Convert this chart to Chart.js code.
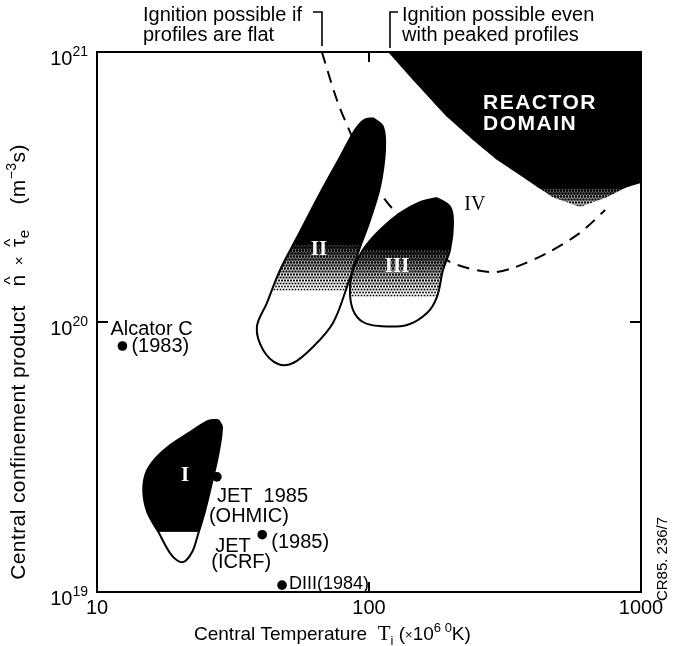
<!DOCTYPE html>
<html>
<head>
<meta charset="utf-8">
<script src="https://cdn.jsdelivr.net/npm/chart.js@4.4.1/dist/chart.umd.min.js"></script>
<style>
  html, body { margin: 0; padding: 0; background: #fff; }
  canvas { display: block; }
</style>
</head>
<body>
<canvas id="chart" width="677" height="646"></canvas>
<script>
// ---- Axes (log-log) ----
const xRange = [10, 1000];
const yRange = [1e19, 1e21];
const xTickValues = [10, 100, 1000];
const xTickLabels = ['10', '100', '1000'];
const yTickValues = [1e19, 1e20, 1e21];
const yTickExponents = ['19', '20', '21'];
const xInnerTicks = [100];
const yInnerTicks = [1e20];

// ---- Individual machines: central ion temperature (10^6 K), n·tau (m^-3 s) ----
const machineT  = [12.4, 27.6, 40.5, 47.9];
const machineNT = [8.15e19, 2.67e19, 1.63e19, 1.06e19];
const machineLabels = [
  ['Alcator C', '(1983)'],
  ['JET  1985', '(OHMIC)'],
  ['JET', '(1985)', '(ICRF)'],
  ['DIII(1984)']
];

// ---- Ignition boundary for flat profiles (dashed) ----
const ignitionT  = [67.1, 76.2, 85.1, 96.6, 108, 121.5, 154, 198.6, 278.6, 338, 451, 597, 738];
const ignitionNT = [1e21, 6.64e20, 5.06e20, 3.81e20, 3.08e20, 2.64e20, 2.05e20, 1.67e20, 1.53e20, 1.585e20, 1.80e20, 2.14e20, 2.60e20];

// ---- Reactor domain (ignition with peaked profiles) ----
const reactorT  = [117.5, 145, 193.7, 241, 295.8, 381, 474, 597, 750, 889, 1000, 1000, 117.5];
const reactorNT = [1e21, 7.88e20, 5.74e20, 4.72e20, 3.98e20, 3.36e20, 2.90e20, 2.67e20, 2.90e20, 3.16e20, 3.27e20, 1e21, 1e21];
const reactorShade = [3.13e20, 2.49e20];   // solid above, dotted fade down to

// ---- Operating regimes I, II, III ----
const regimeIT  = [27.9, 28.8, 27.9, 26.5, 24.9, 23.5, 22.4, 20.7, 18.9, 16.8, 15.3, 14.8, 15.1, 16.2, 18.6, 22.0, 25.6, 27.9];
const regimeINT = [4.34e19, 4.08e19, 3.22e19, 2.56e19, 1.98e19, 1.63e19, 1.41e19, 1.29e19, 1.36e19, 1.67e19, 1.98e19, 2.35e19, 2.74e19, 3.08e19, 3.50e19, 3.91e19, 4.30e19, 4.34e19];
const regimeIShade = [1.67e19, 1.67e19];

const regimeIIT  = [103.4, 112.6, 114.5, 109.7, 100.9, 91.1, 83.0, 73.7, 62.2, 52.6, 46.3, 40.8, 38.7, 42.2, 47.1, 54.4, 66.1, 78.2, 88.8, 95.9, 103.4];
const regimeIINT = [5.69e20, 5.28e20, 4.34e20, 3.16e20, 2.39e20, 1.80e20, 1.35e20, 9.92e19, 8.08e19, 7.05e19, 6.99e19, 7.88e19, 9.58e19, 1.18e20, 1.56e20, 2.06e20, 3.00e20, 4.08e20, 5.14e20, 5.60e20, 5.69e20];
const regimeIIShade = [1.93e20, 1.315e20];

const regimeIIIT  = [177.8, 198.6, 203.7, 198.6, 187.2, 177.8, 163.4, 137.9, 109.7, 95.0, 87.3, 85.1, 87.3, 95.0, 109.7, 130.0, 154.0, 177.8];
const regimeIIINT = [2.88e20, 2.67e20, 2.33e20, 1.85e20, 1.56e20, 1.24e20, 1.08e20, 9.75e19, 9.66e19, 1.0e20, 1.11e20, 1.31e20, 1.56e20, 1.85e20, 2.19e20, 2.53e20, 2.78e20, 2.88e20];
const regimeIIIShade = [1.85e20, 1.24e20];

const regimeNames = ['I', 'II', 'III', 'IV'];
const regimeLabelT  = [21.1, 65.5, 126.8, 245];
const regimeLabelNT = [2.71e19, 1.85e20, 1.60e20, 2.71e20];

// ---- helpers ----
const SANS = '"Liberation Sans", Arial, Helvetica, sans-serif';
const SERIF = '"Liberation Serif", "Times New Roman", serif';
const pts = (xs, ys) => xs.map((x, i) => ({ x: x, y: ys[i] }));

// Halftone band: staggered square dots whose size shrinks from top to bottom
function stipple(ctx, x0, x1, yTop, yBot) {
  const pitch = 3;
  for (let gy = Math.floor(yTop / pitch) * pitch; gy < yBot; gy += pitch) {
    const t = Math.min(1, Math.max(0, (gy + pitch / 2 - yTop) / (yBot - yTop)));
    const ink = 0.95 - 0.68 * t;
    const s = pitch * Math.sqrt(ink);
    const shift = ((gy / pitch) & 1) ? pitch / 2 : 0;
    for (let gx = Math.floor(x0 / pitch) * pitch - pitch; gx < x1; gx += pitch) {
      ctx.fillRect(gx + shift + (pitch - s) / 2, gy + (pitch - s) / 2, s, s);
    }
  }
}

// parts: [text, size, dy, family, weight, hat]
function drawRich(ctx, parts, x, y, align) {
  const widths = parts.map(p => {
    ctx.font = (p[4] || '') + ' ' + p[1] + 'px ' + (p[3] || SANS);
    return ctx.measureText(p[0]).width;
  });
  const total = widths.reduce((a, b) => a + b, 0);
  let cx = align === 'center' ? x - total / 2 : align === 'right' ? x - total : x;
  ctx.textAlign = 'left';
  ctx.textBaseline = 'alphabetic';
  parts.forEach((p, i) => {
    ctx.font = (p[4] || '') + ' ' + p[1] + 'px ' + (p[3] || SANS);
    ctx.fillText(p[0], cx, y + (p[2] || 0));
    if (p[5]) {
      ctx.font = Math.round(p[1] * 0.8) + 'px ' + SANS;
      ctx.textAlign = 'center';
      ctx.fillText('^', cx + widths[i] / 2, y + (p[2] || 0) - p[1] * 0.42);
      ctx.textAlign = 'left';
    }
    cx += widths[i];
  });
}

// Filled regions: solid black, halftone band, white below; clipped to each outline
const regionFill = {
  id: 'regionFill',
  beforeDatasetDraw(chart, args) {
    const ds = chart.data.datasets[args.index];
    if (!ds.shade) return;
    const meta = args.meta;
    const line = meta.dataset;
    const ctx = chart.ctx;
    const a = chart.chartArea;
    const yScale = chart.scales.y;
    line.updateControlPoints(a, 'x');
    const px = meta.data.map(p => p.x), py = meta.data.map(p => p.y);
    const x0 = Math.max(a.left, Math.min(...px) - 8), x1 = Math.min(a.right, Math.max(...px) + 8);
    const y0 = Math.max(a.top, Math.min(...py) - 8), y1 = Math.min(a.bottom, Math.max(...py) + 8);
    ctx.save();
    ctx.beginPath();
    ctx.rect(a.left, a.top, a.right - a.left, a.bottom - a.top);
    ctx.clip();
    ctx.beginPath();
    line.path(ctx);
    ctx.closePath();
    ctx.clip();
    ctx.fillStyle = '#fff';
    ctx.fillRect(x0, y0, x1 - x0, y1 - y0);
    const yb = yScale.getPixelForValue(ds.shade[0]);
    const yw = yScale.getPixelForValue(ds.shade[1]);
    ctx.fillStyle = '#000';
    if (yb > y0) ctx.fillRect(x0, y0, x1 - x0, yb - y0);
    if (yw > yb) stipple(ctx, x0, x1, yb, yw);
    ctx.restore();
  }
};

// Frame, ticks, labels and annotations
const decorations = {
  id: 'decorations',
  afterDraw(chart) {
    const ctx = chart.ctx;
    const a = chart.chartArea;
    const xs = chart.scales.x, ys = chart.scales.y;
    ctx.save();
    ctx.fillStyle = '#000';
    ctx.strokeStyle = '#000';

    // frame
    ctx.lineWidth = 2;
    ctx.strokeRect(a.left, a.top, a.right - a.left, a.bottom - a.top);

    // inner decade ticks
    ctx.beginPath();
    xInnerTicks.forEach(v => {
      const x = xs.getPixelForValue(v);
      ctx.moveTo(x, a.top); ctx.lineTo(x, a.top + 10);
      ctx.moveTo(x, a.bottom); ctx.lineTo(x, a.bottom - 10);
    });
    yInnerTicks.forEach(v => {
      const y = ys.getPixelForValue(v);
      ctx.moveTo(a.left, y); ctx.lineTo(a.left + 11, y);
      ctx.moveTo(a.right, y); ctx.lineTo(a.right - 11, y);
    });
    ctx.stroke();

    // tick labels
    xTickValues.forEach((v, i) => {
      drawRich(ctx, [[xTickLabels[i], 20, 0]], xs.getPixelForValue(v), a.bottom + 22, 'center');
    });
    yTickValues.forEach((v, i) => {
      drawRich(ctx, [['10', 20, 0], [yTickExponents[i], 14, -9]], a.left - 9, ys.getPixelForValue(v) + 13, 'right');
    });

    // axis titles
    drawRich(ctx, [
      ['Central Temperature  ', 19, 0],
      ['T', 21, 0, SERIF],
      ['i', 13, 5],
      [' (', 19, 0],
      ['\u00d7', 13, -1],
      ['10', 19, 0],
      ['6', 13, -8],
      [' ', 13, 0],
      ['0', 13, -8],
      ['K)', 19, 0]
    ], 194, a.bottom + 48, 'left');

    ctx.save();
    ctx.translate(25, 362);
    ctx.rotate(-Math.PI / 2);
    if ('letterSpacing' in ctx) ctx.letterSpacing = '0.4px';
    drawRich(ctx, [
      ['Central confinement product   ', 21, 0],
      ['n', 21, 0, SANS, '', true],
      ['  \u00d7  ', 15, -1],
      ['\u03c4', 21, 0, SANS, '', true],
      ['e', 15, 4],
      ['    (m', 21, 0],
      ['\u22123', 14, -9],
      ['s)', 21, 0]
    ], 0, 0, 'center');
    if ('letterSpacing' in ctx) ctx.letterSpacing = '0px';
    ctx.restore();

    ctx.save();
    ctx.translate(667, 559);
    ctx.rotate(-Math.PI / 2);
    drawRich(ctx, [['CR85. 236/7', 15, 0]], 0, 0, 'center');
    ctx.restore();

    // ignition annotations above the frame
    drawRich(ctx, [['Ignition possible if', 20, 0]], 143, 21, 'left');
    drawRich(ctx, [['profiles are flat', 20, 0]], 143, 41, 'left');
    drawRich(ctx, [['Ignition possible even', 20, 0]], 402, 21, 'left');
    drawRich(ctx, [['with peaked profiles', 20, 0]], 402, 41, 'left');
    ctx.lineWidth = 1.6;
    ctx.beginPath();
    ctx.moveTo(313, 12); ctx.lineTo(322, 12); ctx.lineTo(322, 46);
    ctx.moveTo(398, 12); ctx.lineTo(390, 12); ctx.lineTo(390, 48);
    ctx.stroke();

    // reactor domain title
    ctx.fillStyle = '#fff';
    ctx.font = 'bold 21px ' + SANS;
    ctx.textAlign = 'left';
    ctx.textBaseline = 'alphabetic';
    if ('letterSpacing' in ctx) ctx.letterSpacing = '1.5px';
    ctx.fillText('REACTOR', 483, 109);
    ctx.fillText('DOMAIN', 483, 130);
    if ('letterSpacing' in ctx) ctx.letterSpacing = '0px';

    // regime numerals
    ctx.textAlign = 'center';
    ctx.textBaseline = 'middle';
    regimeNames.forEach((n, i) => {
      const x = xs.getPixelForValue(regimeLabelT[i]);
      const y = ys.getPixelForValue(regimeLabelNT[i]);
      ctx.fillStyle = i < 3 ? '#fff' : '#000';
      ctx.font = (i < 3 ? 'bold 21px ' : '20px ') + SERIF;
      ctx.fillText(n, x, y);
    });

    // machine labels, offset from their markers
    ctx.fillStyle = '#000';
    const offsets = [
      [[-12, -11], [9, 6]],
      [[0, 25], [-8, 45]],
      [[-47, 17], [9, 13], [-51, 33]],
      [[7, 4]]
    ];
    machineLabels.forEach((lines, i) => {
      const x = xs.getPixelForValue(machineT[i]);
      const y = ys.getPixelForValue(machineNT[i]);
      lines.forEach((t, j) => {
        drawRich(ctx, [[t, i === 3 ? 18 : 20, 0]], x + offsets[i][j][0], y + offsets[i][j][1], 'left');
      });
    });
    ctx.restore();
  }
};

new Chart(document.getElementById('chart'), {
  type: 'line',
  data: {
    datasets: [
      {
        label: 'Machines',
        data: pts(machineT, machineNT),
        showLine: false,
        pointRadius: 4.8,
        pointBackgroundColor: '#000',
        pointBorderColor: '#000',
        pointBorderWidth: 0
      },
      {
        label: 'I',
        data: pts(regimeIT, regimeINT),
        shade: regimeIShade,
        borderColor: '#000', borderWidth: 2, tension: 0.35, pointRadius: 0, fill: false
      },
      {
        label: 'II',
        data: pts(regimeIIT, regimeIINT),
        shade: regimeIIShade,
        borderColor: '#000', borderWidth: 2, tension: 0.35, pointRadius: 0, fill: false
      },
      {
        label: 'III',
        data: pts(regimeIIIT, regimeIIINT),
        shade: regimeIIIShade,
        borderColor: '#000', borderWidth: 2, tension: 0.35, pointRadius: 0, fill: false
      },
      {
        label: 'Reactor domain',
        data: pts(reactorT, reactorNT),
        shade: reactorShade,
        borderColor: 'rgba(0,0,0,0)', borderWidth: 0.01, tension: 0.0001, pointRadius: 0, fill: false
      },
      {
        label: 'Ignition, flat profiles',
        data: pts(ignitionT, ignitionNT),
        borderColor: '#000', borderWidth: 2, borderDash: [12, 8], tension: 0.3, pointRadius: 0, fill: false
      }
    ]
  },
  options: {
    responsive: false,
    devicePixelRatio: 1,
    animation: false,
    events: [],
    layout: { padding: { left: 97, right: 36, top: 52, bottom: 54 } },
    scales: {
      x: { type: 'logarithmic', min: xRange[0], max: xRange[1], display: false },
      y: { type: 'logarithmic', min: yRange[0], max: yRange[1], display: false }
    },
    plugins: { legend: { display: false }, tooltip: { enabled: false } }
  },
  plugins: [regionFill, decorations]
});
</script>
</body>
</html>
